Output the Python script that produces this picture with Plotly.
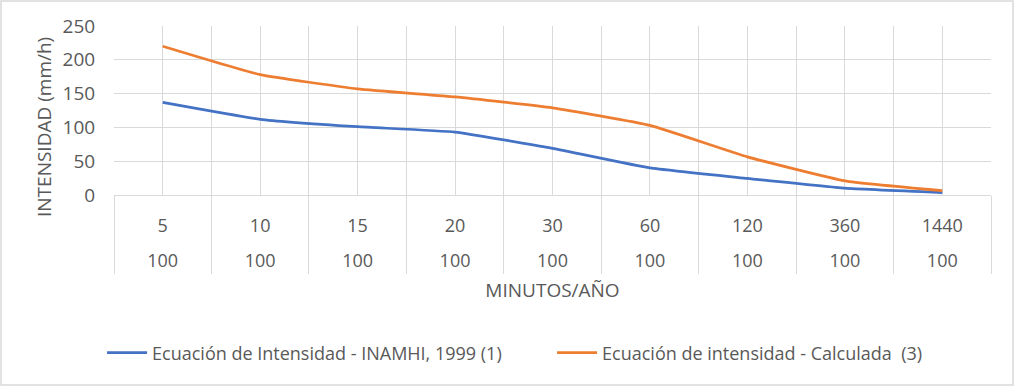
import plotly.graph_objects as go

minutos = ["5", "10", "15", "20", "30", "60", "120", "360", "1440"]
anios = ["100", "100", "100", "100", "100", "100", "100", "100", "100"]
inamhi = [137, 112, 101, 93, 69, 40, 24.5, 10, 3.4]
calculada = [220, 178, 157, 145, 129, 103, 56.5, 21, 6.5]
serie_names = ["Ecuación de Intensidad - INAMHI, 1999 (1)", "Ecuación de intensidad - Calculada  (3)"]
y_title = "INTENSIDAD (mm/h)"
x_title = "MINUTOS/AÑO"

xs = list(range(len(minutos)))

FONT = "Open Sans"
GRAY = "#595959"
GRID = "#d9d9d9"

fig = go.Figure()
fig.add_trace(go.Scatter(x=xs, y=inamhi, mode="lines", name=serie_names[0],
                         line=dict(color="#4472C4", width=2.75, shape="spline", smoothing=0.4)))
fig.add_trace(go.Scatter(x=xs, y=calculada, mode="lines", name=serie_names[1],
                         line=dict(color="#ED7D31", width=2.75, shape="spline", smoothing=0.4)))
# carrier for the second category row (año)
fig.add_trace(go.Scatter(x=xs, y=inamhi, xaxis="x2", mode="lines", showlegend=False,
                         hoverinfo="skip", line=dict(color="rgba(0,0,0,0)", width=0)))

fig.update_layout(
    width=1016, height=387,
    margin=dict(l=114, r=25, t=26, b=192),
    paper_bgcolor="white", plot_bgcolor="white",
    font=dict(family=FONT, color=GRAY, size=18),
    showlegend=True,
    legend=dict(orientation="h", x=-0.0136, xanchor="left", y=-0.935, yanchor="middle",
                font=dict(size=18, color=GRAY), entrywidth=395, entrywidthmode="pixels",
                itemwidth=40, tracegroupgap=0),
    xaxis=dict(
        range=[-0.5, 8.5], tickmode="array", tickvals=xs, ticktext=minutos,
        showgrid=True, gridcolor=GRID, gridwidth=1, ticks="", zeroline=False,
        showline=True, linecolor=GRID, linewidth=1,
        ticklabelstandoff=14,
        tickfont=dict(size=18, color=GRAY, family=FONT),
        minor=dict(tickmode="array", tickvals=[i - 0.5 for i in range(len(minutos) + 1)],
                   showgrid=True, gridcolor=GRID, gridwidth=1,
                   ticks="outside", ticklen=78, tickcolor=GRID, tickwidth=1),
    ),
    xaxis2=dict(
        overlaying="x", anchor="y", side="bottom", matches="x",
        range=[-0.5, 8.5], tickmode="array", tickvals=xs, ticktext=anios,
        showgrid=False, ticks="", zeroline=False, showline=False,
        ticklabelstandoff=53,
        tickfont=dict(size=18, color=GRAY, family=FONT),
        title=dict(text=x_title, font=dict(size=19, color=GRAY, family=FONT), standoff=12),
    ),
    yaxis=dict(
        range=[0, 250], tickmode="array", tickvals=[0, 50, 100, 150, 200, 250],
        showgrid=True, gridcolor=GRID, gridwidth=1, zeroline=False,
        ticks="outside", ticklen=14, tickcolor="rgba(0,0,0,0)",
        tickfont=dict(size=19, color=GRAY, family=FONT),
    ),
)

fig.add_annotation(text=y_title, xref="paper", yref="paper", x=-70 / 877, y=(195 - 127) / 169,
                   xanchor="center", yanchor="middle", textangle=-90, showarrow=False,
                   font=dict(size=19, color=GRAY, family=FONT))

# outer chart border
fig.add_shape(type="rect", xref="paper", yref="paper",
              x0=-113 / 877, x1=1 + 22 / 877, y0=(195 - 385) / 169, y1=1 + 25 / 169,
              line=dict(color="#d9d9d9", width=1.5), fillcolor="rgba(0,0,0,0)", layer="below")

fig.write_html("out.html", config={"displayModeBar": False},
               post_script="document.body.style.margin='0';")
